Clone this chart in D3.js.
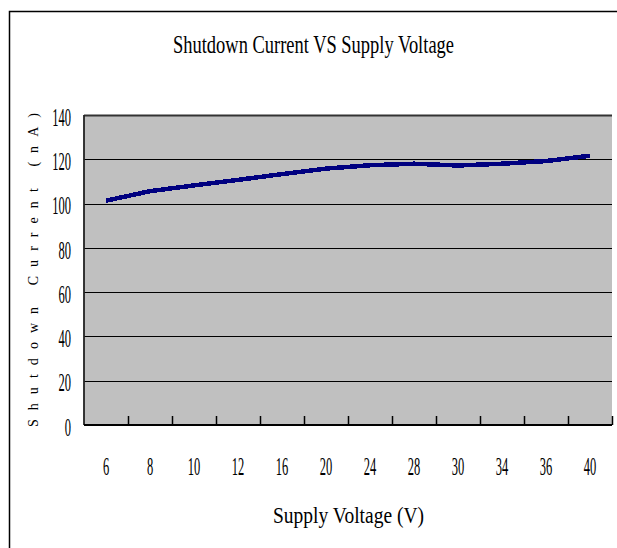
<!DOCTYPE html>
<html>
<head>
<meta charset="utf-8">
<script src="https://cdn.jsdelivr.net/npm/d3@7"></script>
<style>
  body { margin: 0; background: #fff; }
  svg { display: block; }
  text { font-family: "Liberation Serif", "DejaVu Serif", serif; fill: #000; }
</style>
</head>
<body>
<div id="chart"></div>
<script>
// data
const voltages = ['6', '8', '10', '12', '16', '20', '24', '28', '30', '34', '36', '40'];
const currents = [101.3, 105.6, 108.2, 110.7, 113.3, 115.8, 117.3, 118.0, 117.2, 118.0, 119.2, 121.6];
const yTicks = [0, 20, 40, 60, 80, 100, 120, 140];

const width = 617;
const height = 548;
const plot = { left: 84, right: 612, top: 115, bottom: 425 };

const svg = d3.select('#chart')
  .append('svg')
  .attr('width', width)
  .attr('height', height);

// outer chart frame (runs off the bottom/right of the picture)
svg.append('rect')
  .attr('x', 9.5)
  .attr('y', 11.5)
  .attr('width', 620)
  .attr('height', 560)
  .attr('fill', '#fff')
  .attr('stroke', '#000')
  .attr('stroke-width', 1.5);

const xScale = d3.scaleBand()
  .domain(voltages)
  .range([plot.left, plot.right]);

const yScale = d3.scaleLinear()
  .domain([0, 140])
  .range([plot.bottom, plot.top]);

// plot area
svg.append('rect')
  .attr('x', plot.left)
  .attr('y', plot.top)
  .attr('width', plot.right - plot.left)
  .attr('height', plot.bottom - plot.top)
  .attr('fill', '#c0c0c0');

// gridlines
svg.append('g')
  .selectAll('line')
  .data(yTicks.filter(d => d > 0))
  .enter()
  .append('line')
  .attr('x1', plot.left)
  .attr('x2', plot.right)
  .attr('y1', d => Math.round(yScale(d)) + 0.5)
  .attr('y2', d => Math.round(yScale(d)) + 0.5)
  .attr('stroke', d => d === 140 ? '#333' : '#000')
  .attr('stroke-width', d => d === 140 ? 1.8 : 1.2);

// axes lines
svg.append('line')
  .attr('x1', plot.left).attr('x2', plot.left)
  .attr('y1', plot.top).attr('y2', plot.bottom)
  .attr('stroke', '#222').attr('stroke-width', 1.8);

svg.append('line')
  .attr('x1', plot.left).attr('x2', plot.right)
  .attr('y1', plot.bottom).attr('y2', plot.bottom)
  .attr('stroke', '#000').attr('stroke-width', 2);

// category ticks between bands, pointing inward
svg.append('g')
  .selectAll('line')
  .data(voltages)
  .enter()
  .append('line')
  .attr('x1', d => Math.round(xScale(d) + xScale.bandwidth()) + 0.5)
  .attr('x2', d => Math.round(xScale(d) + xScale.bandwidth()) + 0.5)
  .attr('y1', plot.bottom)
  .attr('y2', plot.bottom - 9)
  .attr('stroke', '#000')
  .attr('stroke-width', 1.5);

// the series
const line = d3.line()
  .x((d, i) => xScale(voltages[i]) + xScale.bandwidth() / 2)
  .y(d => yScale(d));

svg.append('path')
  .datum(currents)
  .attr('d', line)
  .attr('fill', 'none')
  .attr('stroke', '#000080')
  .attr('stroke-width', 4.5)
  .attr('shape-rendering', 'crispEdges');

// y tick labels (condensed)
svg.append('g')
  .selectAll('g')
  .data(yTicks)
  .enter()
  .append('g')
  .attr('transform', d => `translate(71, ${yScale(d) + 2}) scale(0.5, 1)`)
  .append('text')
  .attr('text-anchor', 'end')
  .attr('dy', '0.35em')
  .attr('font-size', 25)
  .text(d => d);

// x tick labels
svg.append('g')
  .selectAll('g')
  .data(voltages)
  .enter()
  .append('g')
  .attr('transform', d => `translate(${xScale(d) + xScale.bandwidth() / 2}, 475) scale(0.5, 1)`)
  .append('text')
  .attr('text-anchor', 'middle')
  .attr('font-size', 25)
  .text(d => d);

// titles
svg.append('text')
  .attr('x', 173)
  .attr('y', 53)
  .attr('font-size', 26)
  .attr('textLength', 281)
  .attr('lengthAdjust', 'spacingAndGlyphs')
  .text('Shutdown Current VS Supply Voltage');

svg.append('text')
  .attr('x', 273)
  .attr('y', 523)
  .attr('font-size', 23)
  .attr('textLength', 151)
  .attr('lengthAdjust', 'spacingAndGlyphs')
  .text('Supply Voltage (V)');

svg.append('text')
  .attr('transform', 'translate(38, 427) rotate(-90)')
  .attr('font-family', '"Liberation Sans", sans-serif')
  .attr('font-size', 14)
  .attr('textLength', 314)
  .attr('lengthAdjust', 'spacing')
  .text('Shutdown Current (nA)');
</script>
</body>
</html>
